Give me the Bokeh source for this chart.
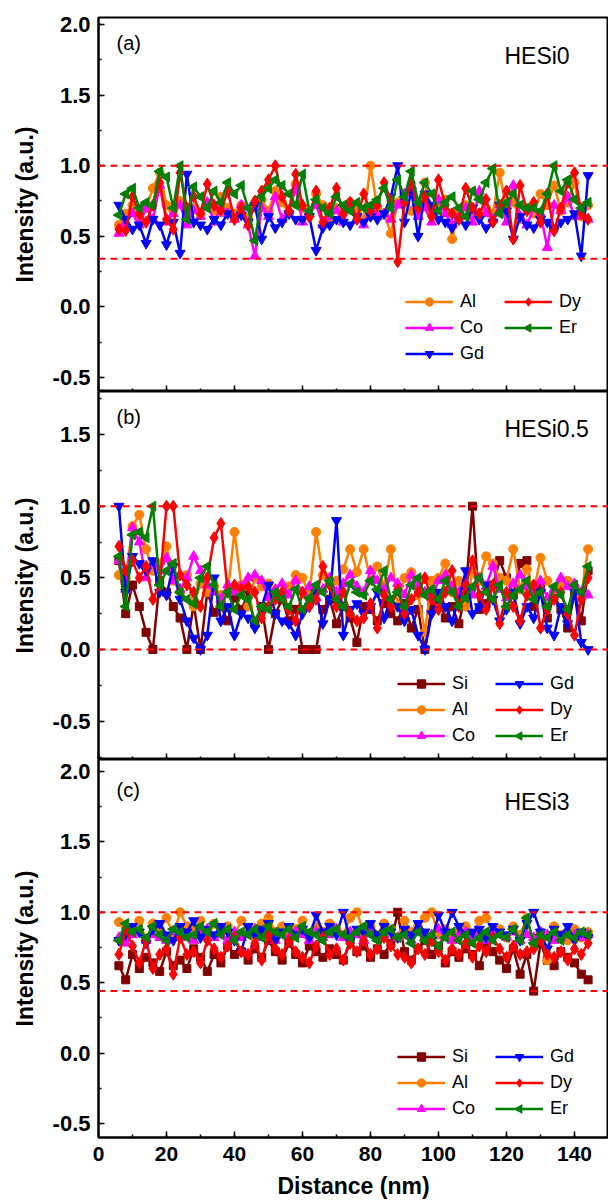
import math
from bokeh.plotting import figure
from bokeh.layouts import column
from bokeh.models import (Range1d, Span, Label, Legend, LegendItem, ColumnDataSource,
                          SingleIntervalTicker, PrintfTickFormatter,
                          CustomJSTickFormatter, CustomJS)
from bokeh.embed import file_html
from bokeh.resources import INLINE

# ---------------- data ----------------
distance = list(range(6, 146, 2))  # nm, 70 sampling points

# (a) HESi0
a_Al = [0.58,0.66,0.72,0.62,0.70,0.84,0.95,0.72,0.68,0.75,
        0.64,0.70,0.66,0.73,0.68,0.78,0.70,0.66,0.72,0.63,
        0.70,0.76,0.68,0.82,0.74,0.66,0.87,0.70,0.64,0.80,
        0.72,0.60,0.70,0.66,0.74,0.68,0.62,1.00,0.70,0.66,
        0.52,0.74,0.80,0.68,0.72,0.88,0.66,0.70,0.76,0.48,
        0.68,0.72,0.64,0.78,0.70,0.66,0.95,0.68,0.74,0.62,
        0.70,0.66,0.80,0.72,0.86,0.68,0.74,0.88,0.64,0.72]
a_Dy = [0.55,0.54,0.78,0.66,0.60,0.72,0.88,0.62,0.55,0.95,
        0.70,0.78,0.66,0.87,0.72,0.68,0.82,0.62,0.70,0.58,
        0.75,0.82,0.90,1.00,0.78,0.68,0.94,0.72,0.64,0.82,
        0.60,0.70,0.84,0.66,0.74,0.62,0.80,0.68,0.72,0.88,
        0.75,0.32,0.74,0.88,0.70,0.78,0.64,0.90,0.72,0.66,
        0.62,0.84,0.70,0.66,0.76,0.60,0.72,0.82,0.48,0.86,
        0.68,0.74,0.60,0.80,0.54,0.70,0.88,0.95,0.66,0.62]
a_Co = [0.52,0.60,0.66,0.58,0.70,0.62,0.86,0.60,0.66,0.72,
        0.58,0.68,0.64,0.74,0.60,0.70,0.66,0.62,0.72,0.58,
        0.36,0.70,0.64,0.78,0.62,0.68,0.84,0.60,0.66,0.72,
        0.58,0.64,0.68,0.60,0.74,0.62,0.58,0.70,0.64,0.66,
        0.62,0.72,0.80,0.86,0.64,0.70,0.60,0.76,0.66,0.58,
        0.64,0.70,0.60,0.82,0.66,0.62,0.72,0.60,0.86,0.64,
        0.58,0.70,0.66,0.42,0.72,0.68,0.78,0.64,0.70,0.62]
a_Er = [0.65,0.80,0.84,0.70,0.74,0.72,0.96,0.92,0.70,1.00,
        0.62,0.85,0.78,0.70,0.82,0.74,0.88,0.80,0.86,0.70,
        0.47,0.78,0.84,0.90,0.86,0.80,0.72,0.94,0.68,0.76,
        0.70,0.66,0.78,0.72,0.68,0.74,0.70,0.72,0.76,0.84,
        0.70,0.90,0.78,0.96,0.74,0.88,0.80,0.68,0.74,0.78,
        0.70,0.64,0.82,0.76,0.88,0.98,0.66,0.74,0.80,0.72,
        0.70,0.70,0.68,0.80,1.00,0.82,0.90,0.76,0.70,0.74]
a_Gd = [0.72,0.62,0.55,0.58,0.45,0.62,0.58,0.44,0.60,0.38,
        0.94,0.60,0.58,0.55,0.62,0.58,0.66,0.62,0.65,0.60,
        0.72,0.48,0.64,0.56,0.60,0.66,0.62,0.62,0.64,0.40,
        0.56,0.58,0.62,0.60,0.58,0.64,0.60,0.64,0.62,0.66,
        0.78,1.00,0.60,0.82,0.50,0.80,0.72,0.62,0.60,0.56,
        0.62,0.58,0.70,0.62,0.56,0.60,0.72,0.68,0.48,0.64,
        0.58,0.56,0.62,0.60,0.54,0.60,0.62,0.66,0.36,0.93]

# (b) HESi0.5
b_Si = [0.62,0.25,0.45,0.30,0.12,0.00,0.48,0.40,0.30,0.22,
        0.00,0.32,0.00,0.40,0.26,0.30,0.20,0.36,0.28,0.38,
        0.18,0.30,0.00,0.25,0.35,0.20,0.28,0.00,0.00,0.00,
        0.28,0.35,0.18,0.30,0.22,0.05,0.30,0.28,0.20,0.32,
        0.25,0.20,0.32,0.15,0.28,0.00,0.30,0.35,0.22,0.30,
        0.18,0.40,1.00,0.28,0.32,0.45,0.62,0.50,0.38,0.60,
        0.62,0.30,0.45,0.22,0.38,0.28,0.15,0.40,0.20,0.55]
b_Al = [0.52,0.50,0.86,0.94,0.70,0.55,0.60,0.72,0.48,0.40,
        0.52,0.30,0.46,0.40,0.44,0.38,0.40,0.82,0.45,0.30,
        0.50,0.44,0.46,0.40,0.38,0.44,0.52,0.50,0.38,0.82,
        0.52,0.46,0.48,0.56,0.70,0.54,0.70,0.48,0.58,0.44,
        0.70,0.30,0.50,0.54,0.38,0.12,0.48,0.50,0.60,0.40,
        0.48,0.30,0.54,0.48,0.65,0.60,0.50,0.48,0.70,0.42,
        0.56,0.40,0.64,0.48,0.38,0.46,0.48,0.42,0.38,0.70]
b_Co = [0.62,0.42,0.85,0.75,0.50,0.60,0.55,0.64,0.48,0.42,
        0.50,0.65,0.55,0.45,0.40,0.35,0.45,0.40,0.44,0.50,
        0.52,0.48,0.36,0.42,0.46,0.38,0.48,0.40,0.44,0.36,
        0.42,0.50,0.40,0.46,0.52,0.44,0.40,0.55,0.48,0.42,
        0.50,0.46,0.38,0.52,0.44,0.40,0.36,0.48,0.52,0.44,
        0.40,0.46,0.38,0.50,0.44,0.58,0.42,0.36,0.46,0.52,
        0.44,0.40,0.48,0.36,0.42,0.50,0.44,0.46,0.40,0.38]
b_Gd = [1.00,0.40,0.65,0.60,0.55,0.62,0.40,0.38,0.58,0.35,
        0.20,0.08,0.00,0.10,0.50,0.20,0.30,0.10,0.25,0.22,
        0.15,0.30,0.45,0.25,0.20,0.18,0.10,0.25,0.30,0.40,
        0.18,0.35,0.90,0.10,0.28,0.32,0.25,0.30,0.40,0.22,
        0.35,0.30,0.20,0.28,0.10,0.00,0.25,0.40,0.30,0.20,
        0.35,0.55,0.25,0.30,0.45,0.35,0.20,0.28,0.40,0.18,
        0.30,0.22,0.40,0.15,0.10,0.30,0.18,0.40,0.05,0.00]
b_Dy = [0.72,0.55,0.62,0.50,0.58,0.35,0.45,1.00,1.00,0.52,
        0.45,0.40,0.30,0.50,0.78,0.88,0.40,0.45,0.42,0.44,
        0.40,0.22,0.30,0.35,0.40,0.28,0.20,0.40,0.30,0.35,
        0.58,0.45,0.30,0.40,0.25,0.20,0.22,0.32,0.15,0.38,
        0.30,0.42,0.25,0.35,0.40,0.50,0.35,0.28,0.40,0.55,
        0.30,0.45,0.62,0.38,0.28,0.45,0.18,0.40,0.30,0.20,
        0.38,0.45,0.15,0.28,0.35,0.40,0.25,0.10,0.35,0.50]
b_Er = [0.65,0.30,0.80,0.82,0.78,1.00,0.45,0.55,0.60,0.40,
        0.35,0.32,0.50,0.58,0.45,0.30,0.40,0.28,0.38,0.35,
        0.20,0.30,0.28,0.40,0.35,0.30,0.42,0.28,0.36,0.45,
        0.40,0.48,0.35,0.30,0.46,0.40,0.38,0.48,0.42,0.55,
        0.35,0.40,0.30,0.45,0.50,0.38,0.42,0.35,0.48,0.40,
        0.30,0.36,0.44,0.50,0.40,0.35,0.45,0.30,0.38,0.42,
        0.48,0.35,0.40,0.30,0.44,0.38,0.28,0.45,0.40,0.58]

# (c) HESi3
c_Si = [0.62,0.52,0.70,0.60,0.68,0.64,0.58,0.72,0.62,0.66,
        0.60,0.74,0.68,0.58,0.70,0.64,0.76,0.70,0.72,0.66,
        0.74,0.68,0.80,0.72,0.66,0.78,0.70,0.64,0.76,0.72,
        0.68,0.74,0.70,0.66,0.80,0.72,0.76,0.68,0.74,0.70,
        0.78,1.00,0.72,0.66,0.74,0.80,0.70,0.76,0.64,0.72,
        0.68,0.74,0.70,0.62,0.78,0.72,0.66,0.60,0.74,0.56,
        0.70,0.44,0.78,0.66,0.62,0.72,0.68,0.64,0.56,0.52]
c_Al = [0.93,0.90,0.86,0.94,0.80,0.92,0.88,0.96,0.84,1.00,
        0.90,0.88,0.94,0.82,0.92,0.86,0.90,0.84,0.94,0.88,
        0.82,0.92,0.96,0.86,0.90,0.84,0.88,0.94,0.82,0.90,
        0.86,0.92,0.88,0.84,0.96,1.00,0.86,0.90,0.84,0.92,
        0.88,0.82,0.94,0.86,0.90,0.96,1.00,0.84,0.88,0.82,
        0.86,0.90,0.84,0.94,0.96,0.86,0.88,0.82,0.90,0.84,
        0.96,0.78,0.86,0.66,0.90,0.84,0.80,0.88,0.82,0.86]
c_Co = [0.82,0.78,0.84,0.86,0.80,0.84,0.82,0.80,0.86,0.82,
        0.84,0.80,0.86,0.88,0.82,0.84,0.80,0.86,0.82,0.84,
        0.88,0.82,0.86,0.80,0.84,0.82,0.86,0.84,0.80,0.86,
        0.82,0.84,0.88,0.82,0.86,0.84,0.80,0.86,0.82,0.84,
        0.86,0.82,0.84,0.80,0.86,0.82,0.84,0.88,0.82,0.80,
        0.84,0.86,0.82,0.84,0.80,0.86,0.84,0.82,0.86,0.80,
        0.84,0.82,0.86,0.84,0.80,0.82,0.86,0.84,0.82,0.84]
c_Gd = [0.80,0.84,0.90,0.86,0.78,0.88,0.92,0.84,0.80,0.90,
        0.86,0.94,0.82,0.88,0.84,0.90,0.86,0.80,0.72,0.90,
        0.84,0.88,0.92,0.80,0.86,0.90,0.84,0.88,0.82,0.98,
        0.86,0.90,0.84,1.00,0.80,0.88,0.86,0.92,0.84,0.90,
        0.86,0.82,0.88,0.84,0.92,0.86,0.80,0.98,0.86,1.00,
        0.90,0.84,0.86,0.88,0.82,0.90,0.86,0.84,0.88,0.80,
        0.92,1.00,0.86,0.74,0.88,0.84,0.90,0.80,0.86,0.82]
c_Dy = [0.70,0.88,0.76,0.64,0.80,0.60,0.70,0.74,0.56,0.82,
        0.70,0.72,0.64,0.80,0.74,0.68,0.76,0.82,0.72,0.70,
        0.78,0.66,0.84,0.74,0.70,0.80,0.72,0.68,0.64,0.76,
        0.82,0.70,0.74,0.66,0.78,0.72,0.80,0.70,0.74,0.82,
        0.76,0.70,0.68,0.64,0.74,0.70,0.80,0.72,0.66,0.74,
        0.70,0.78,0.68,0.76,0.72,0.82,0.74,0.68,0.76,0.70,
        0.72,0.74,0.80,0.70,0.68,0.72,0.66,0.74,0.70,0.78]
c_Er = [0.80,0.92,0.86,0.88,0.82,0.90,0.84,0.80,0.88,0.86,
        0.82,0.84,0.90,0.86,0.92,0.84,0.88,0.80,0.86,0.84,
        0.88,0.82,0.90,0.86,0.84,0.88,0.82,0.90,0.86,0.84,
        0.80,0.86,0.88,0.84,0.82,0.86,0.90,0.84,0.80,0.86,
        0.88,0.82,0.84,0.78,0.86,0.80,0.84,0.76,0.82,0.86,
        0.80,0.84,0.78,0.82,0.86,0.80,0.84,0.82,0.88,0.80,
        0.96,0.78,0.84,0.82,0.86,0.80,0.84,0.82,0.86,0.84]

# reference (dashed) levels
a_levels = [1.0, 0.34]
b_levels = [1.0, 0.0]
c_levels = [1.0, 0.44]

x_ticks_interval = 20
y_ticks_interval = 0.5

# ---------------- styling ----------------
FONT = "Liberation Sans"

# custom left-pointing triangle marker (used in plot and legend alike)
LEFT_TRIANGLE = CustomJS(code="""
export default (args, obj, {ctx, i, r, visuals}) => {
    const h = r * Math.sqrt(3)
    const a = h / 3
    ctx.moveTo(a - h, 0)
    ctx.lineTo(a, -r)
    ctx.lineTo(a, r)
    ctx.closePath()
    visuals.fill.apply(ctx, i)
    visuals.line.apply(ctx, i)
}
""")

STYLE = {
    "Si": ("#800000", "square", 8),
    "Al": ("#FF8000", "circle", 9),
    "Co": ("#FF00FF", "triangle", 10),
    "Gd": ("#0000FF", "inverted_triangle", 10),
    "Dy": ("#FF0000", "diamond", 12),
    "Er": ("#008000", "@ltri", 10),
}


def make_panel(series, y_lo, y_hi, height, b_top, b_bottom, last, levels,
               tag, tag_y, name, name_y, leg_cols, leg_pos):
    p = figure(width=608, height=height, x_range=Range1d(0, 150),
               y_range=Range1d(y_lo, y_hi), output_backend="svg",
               toolbar_location=None, min_border=0,
               min_border_left=98, min_border_right=0,
               min_border_top=b_top, min_border_bottom=b_bottom)
    p.xgrid.visible = False
    p.ygrid.visible = False
    p.outline_line_color = "black"
    p.outline_line_width = 2
    p.background_fill_color = "white"
    p.border_fill_color = "white"

    xa = p.xaxis[0]
    xa.ticker = SingleIntervalTicker(interval=x_ticks_interval, num_minor_ticks=2)
    xa.axis_line_width = 2
    xa.axis_line_color = "black"
    xa.major_tick_in = 6
    xa.major_tick_out = 0
    xa.minor_tick_in = 3
    xa.minor_tick_out = 0
    xa.major_tick_line_width = 1.5
    xa.minor_tick_line_width = 1.5
    xa.major_tick_line_color = "black"
    xa.minor_tick_line_color = "black"
    if last:
        xa.axis_label = "Distance (nm)"
        xa.axis_label_text_font = FONT
        xa.axis_label_text_font_size = "23px"
        xa.axis_label_text_font_style = "bold"
        xa.axis_label_text_color = "black"
        xa.axis_label_standoff = 9
        xa.major_label_text_font = FONT
        xa.major_label_text_font_size = "21px"
        xa.major_label_text_font_style = "bold"
        xa.major_label_text_color = "black"
        xa.major_label_standoff = 9
    else:
        xa.formatter = CustomJSTickFormatter(code="return ''")
        xa.major_label_text_font_size = "0px"
        xa.major_label_standoff = 0

    ya = p.yaxis[0]
    ya.ticker = SingleIntervalTicker(interval=y_ticks_interval, num_minor_ticks=2)
    ya.formatter = PrintfTickFormatter(format="%.1f")
    ya.axis_line_width = 2
    ya.axis_line_color = "black"
    ya.major_tick_in = 6
    ya.major_tick_out = 0
    ya.minor_tick_in = 3
    ya.minor_tick_out = 0
    ya.major_tick_line_width = 1.5
    ya.minor_tick_line_width = 1.5
    ya.major_tick_line_color = "black"
    ya.minor_tick_line_color = "black"
    ya.major_label_text_font = FONT
    ya.major_label_text_font_size = "22px"
    ya.major_label_text_font_style = "bold"
    ya.major_label_text_color = "black"
    ya.major_label_standoff = 8
    ya.axis_label = "Intensity (a.u.)"
    ya.axis_label_text_font = FONT
    ya.axis_label_text_font_size = "23px"
    ya.axis_label_text_font_style = "bold"
    ya.axis_label_text_color = "black"
    ya.axis_label_standoff = 12

    for lv in levels:
        p.add_layout(Span(location=lv, dimension="width", line_color="#FF0000",
                          line_width=2, line_dash="7 5"))

    rends = {}
    for nm, vals in series:
        color, marker, size = STYLE[nm]
        src = ColumnDataSource(dict(x=distance, y=vals))
        lr = p.line("x", "y", source=src, line_color=color, line_width=2.5)
        kw = dict(defs={"@ltri": LEFT_TRIANGLE}) if marker.startswith("@") else {}
        sr = p.scatter("x", "y", source=src, marker=marker, size=size,
                       fill_color=color, line_color=color, **kw)
        rends[nm] = [lr, sr]

    for names, (vx, vy) in zip(leg_cols, leg_pos):
        items = [LegendItem(label=n, renderers=rends[n]) for n in names]
        leg = Legend(items=items, location=(vx, vy), orientation="vertical",
                     glyph_width=48, glyph_height=21, label_height=21,
                     spacing=5, padding=0, margin=0, label_standoff=7,
                     border_line_alpha=0, background_fill_alpha=0,
                     label_text_font=FONT, label_text_font_size="18px",
                     label_text_color="black")
        p.add_layout(leg, "center")

    p.add_layout(Label(x=5.3, y=tag_y, text=tag, text_font=FONT,
                       text_font_size="20px", text_baseline="middle",
                       text_color="black"))
    p.add_layout(Label(x=119.4, y=name_y, text=name, text_font=FONT,
                       text_font_size="23px", text_baseline="middle",
                       text_color="black"))
    return p


pa = make_panel([("Al", a_Al), ("Co", a_Co), ("Gd", a_Gd), ("Dy", a_Dy), ("Er", a_Er)],
                -0.6, 2.05, 391, 17, 0, False, a_levels,
                "(a)", 1.87, "HESi0", 1.78,
                [["Al", "Co", "Gd"], ["Dy", "Er"]], [(307, 27), (406, 53)])
pb = make_panel([("Si", b_Si), ("Al", b_Al), ("Co", b_Co), ("Gd", b_Gd), ("Dy", b_Dy), ("Er", b_Er)],
                -0.767, 1.80, 368, 0, 0, False, b_levels,
                "(b)", 1.62, "HESi0.5", 1.535,
                [["Si", "Al", "Co"], ["Gd", "Dy", "Er"]], [(299, 13), (397, 13)])
pc = make_panel([("Si", c_Si), ("Al", c_Al), ("Co", c_Co), ("Gd", c_Gd), ("Dy", c_Dy), ("Er", c_Er)],
                -0.6, 2.085, 444, 0, 66, True, c_levels,
                "(c)", 1.87, "HESi3", 1.78,
                [["Si", "Al", "Co"], ["Gd", "Dy", "Er"]], [(299, 18), (397, 18)])

layout = column(pa, pb, pc, spacing=0)
open("out.html", "w").write(file_html(layout, INLINE))
